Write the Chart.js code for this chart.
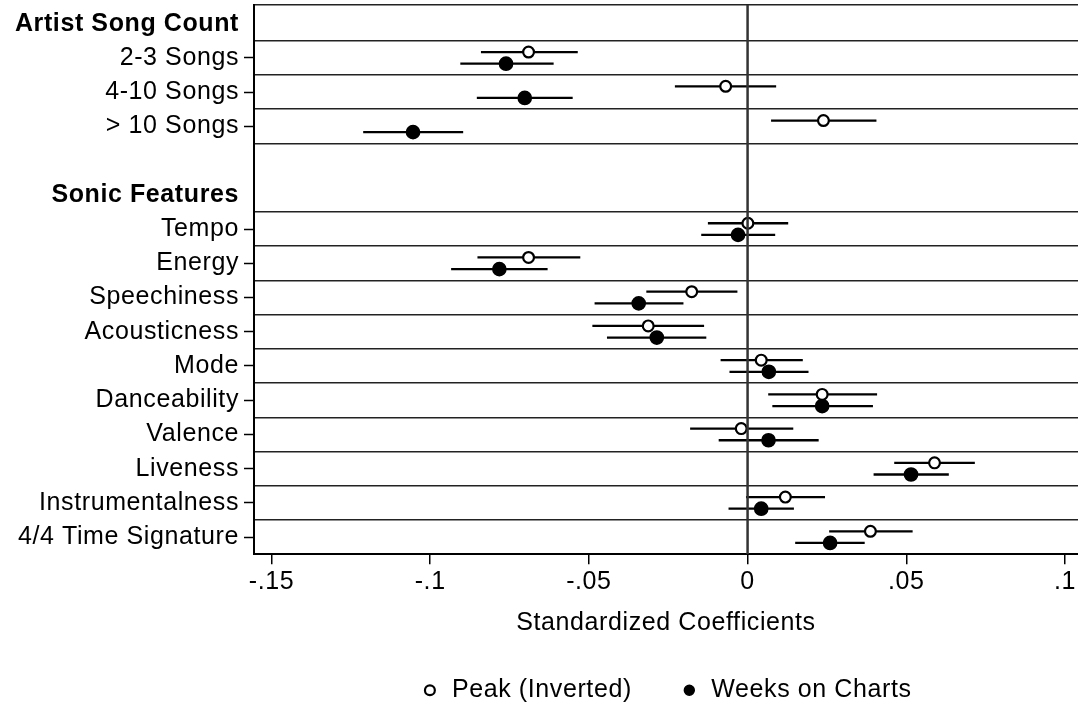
<!DOCTYPE html>
<html><head><meta charset="utf-8">
<script src="https://cdn.jsdelivr.net/npm/chart.js@4"></script>
<style>html,body{margin:0;padding:0;background:#fff}#wrap{width:1078px;height:704px;position:relative}</style>
</head><body><div id="wrap"><canvas id="c"></canvas></div>
<script>
// ---- data ----
const rowLabels = ['Artist Song Count','2-3 Songs','4-10 Songs','> 10 Songs','','Sonic Features','Tempo','Energy','Speechiness','Acousticness','Mode','Danceability','Valence','Liveness','Instrumentalness','4/4 Time Signature'];
const headerLabels = ['Artist Song Count','Sonic Features'];
const variables = ['2-3 Songs','4-10 Songs','> 10 Songs','Tempo','Energy','Speechiness','Acousticness','Mode','Danceability','Valence','Liveness','Instrumentalness','4/4 Time Signature'];
const seriesNames = ['Peak (Inverted)','Weeks on Charts'];
const peakCoef = [-0.0690,-0.0069, 0.0239, 0.0001,-0.0690,-0.0176,-0.0313, 0.0043, 0.0235,-0.0020, 0.0589, 0.0119, 0.0387];
const peakLo   = [-0.0840,-0.0229, 0.0074,-0.0125,-0.0851,-0.0319,-0.0489,-0.0085, 0.0065,-0.0181, 0.0462,-0.0005, 0.0257];
const peakHi   = [-0.0535, 0.0090, 0.0406, 0.0128,-0.0527,-0.0032,-0.0137, 0.0174, 0.0408, 0.0144, 0.0716, 0.0244, 0.0520];
const weeksCoef= [-0.0761,-0.0702,-0.1054,-0.0030,-0.0782,-0.0343,-0.0286, 0.0067, 0.0235, 0.0066, 0.0515, 0.0043, 0.0260];
const weeksLo  = [-0.0905,-0.0853,-0.1211,-0.0146,-0.0934,-0.0482,-0.0443,-0.0057, 0.0078,-0.0091, 0.0397,-0.0060, 0.0150];
const weeksHi  = [-0.0611,-0.0551,-0.0896, 0.0087,-0.0630,-0.0202,-0.0130, 0.0192, 0.0395, 0.0224, 0.0634, 0.0146, 0.0369];
const xTickValues = [-0.15,-0.1,-0.05,0,0.05,0.1];
const xTickLabels = ['-.15','-.1','-.05','0','.05','.1'];
const xTitle = 'Standardized Coefficients';

// ---- styling / layout ----
const FONT = "'Liberation Sans', Arial, Helvetica, sans-serif";
const FS = 25;
const OFFSET = 0.17;
const X_MIN = -0.1555, X_MAX = 0.1041;
const Y_TOP = -0.545, Y_BOTTOM = rowLabels.length - 0.5;
const rowOf = v => rowLabels.indexOf(v);
const isHeader = i => headerLabels.includes(rowLabels[i]);

const boundaries = [Y_TOP];
for (let i = 0; i < rowLabels.length - 1; i++) {
  if (rowLabels[i] !== '') boundaries.push(i + 0.5);
}

function ciSets(lo, hi, off) {
  return variables.map((v, i) => ({
    type: 'scatter', showLine: true, helper: true,
    data: [{x: lo[i], y: rowOf(v) + off}, {x: hi[i], y: rowOf(v) + off}],
    borderColor: '#000', borderWidth: 2.3, pointRadius: 0, pointHoverRadius: 0, order: 3
  }));
}

const datasets = [
  {
    label: seriesNames[0], type: 'scatter',
    data: variables.map((v, i) => ({x: peakCoef[i], y: rowOf(v) - OFFSET})),
    pointStyle: 'circle', pointRadius: 5.4, pointHoverRadius: 5.4,
    backgroundColor: '#fff', borderColor: '#000', borderWidth: 2.2, order: 1
  },
  {
    label: seriesNames[1], type: 'scatter',
    data: variables.map((v, i) => ({x: weeksCoef[i], y: rowOf(v) + OFFSET})),
    pointStyle: 'circle', pointRadius: 6.6, pointHoverRadius: 6.6,
    backgroundColor: '#000', borderColor: '#000', borderWidth: 1.5, order: 1
  },
  ...ciSets(peakLo, peakHi, -OFFSET),
  ...ciSets(weeksLo, weeksHi, OFFSET),
  {
    type: 'scatter', showLine: true, helper: true,
    data: [{x: 0, y: Y_TOP}, {x: 0, y: Y_BOTTOM}],
    borderColor: '#333', borderWidth: 2.5, pointRadius: 0, pointHoverRadius: 0, order: 0
  }
];

const spacing = {
  id: 'spacing',
  beforeLayout(chart) { chart.ctx.letterSpacing = '0.6px'; },
  beforeDraw(chart) { chart.ctx.letterSpacing = '0.6px'; }
};
const zeroPad = s => { s.paddingTop = 0; s.paddingBottom = 0; s.paddingLeft = 0; s.paddingRight = 0; };

new Chart(document.getElementById('c'), {
  type: 'scatter',
  data: {datasets},
  plugins: [spacing],
  options: {
    responsive: true, maintainAspectRatio: false, animation: false,
    layout: {autoPadding: false, padding: {top: 5, right: 0, bottom: -8.75, left: 0}},
    plugins: {
      tooltip: {enabled: false},
      legend: {
        position: 'bottom', fullSize: false,
        labels: {
          filter: (item, data) => !data.datasets[item.datasetIndex].helper,
          usePointStyle: true, pointStyle: 'circle', boxWidth: 19, boxHeight: 7,
          padding: 48, color: '#000', font: {family: FONT, size: FS}
        }
      }
    },
    scales: {
      x: {
        type: 'linear', position: 'bottom', min: X_MIN, max: X_MAX,
        afterBuildTicks: s => { s.ticks = xTickValues.map(v => ({value: v})); },
        afterFit: s => { s.height = 75.5; zeroPad(s); },
        ticks: {callback: (v, i) => xTickLabels[i], color: '#000', padding: 3, maxRotation: 0, autoSkip: false,
                font: {family: FONT, size: FS}},
        grid: {drawOnChartArea: false, drawTicks: true, tickLength: 10, tickColor: '#000', tickWidth: 1.5, lineWidth: 1.5},
        border: {display: true, color: '#000', width: 2},
        title: {display: true, text: xTitle, color: '#000', padding: {top: 0, bottom: 0},
                font: {family: FONT, size: FS, lineHeight: '13px'}}
      },
      y: {
        type: 'linear', position: 'left', reverse: true, min: Y_TOP, max: Y_BOTTOM,
        afterBuildTicks: s => { s.ticks = rowLabels.map((l, i) => ({value: i})).filter(t => rowLabels[t.value] !== ''); },
        afterFit: s => { s.width = 254; zeroPad(s); },
        ticks: {
          callback: v => rowLabels[v], autoSkip: false, color: '#000', padding: 5,
          font: ctx => ({family: FONT, size: FS, weight: (ctx.tick && isHeader(ctx.tick.value)) ? 'bold' : 'normal'})
        },
        grid: {drawOnChartArea: false, drawTicks: true, tickLength: 10, tickWidth: 1.5,
               tickColor: ctx => (ctx.tick && isHeader(ctx.tick.value)) ? 'rgba(0,0,0,0)' : '#000'},
        border: {display: true, color: '#000', width: 2}
      },
      y2: {
        type: 'linear', position: 'left', reverse: true, min: Y_TOP, max: Y_BOTTOM,
        afterBuildTicks: s => { s.ticks = boundaries.map(v => ({value: v})); },
        afterFit: s => { s.width = 0; zeroPad(s); },
        ticks: {display: false},
        grid: {drawTicks: false, color: '#222', lineWidth: 1.6},
        border: {display: false}
      }
    }
  }
});
</script>
</body></html>
